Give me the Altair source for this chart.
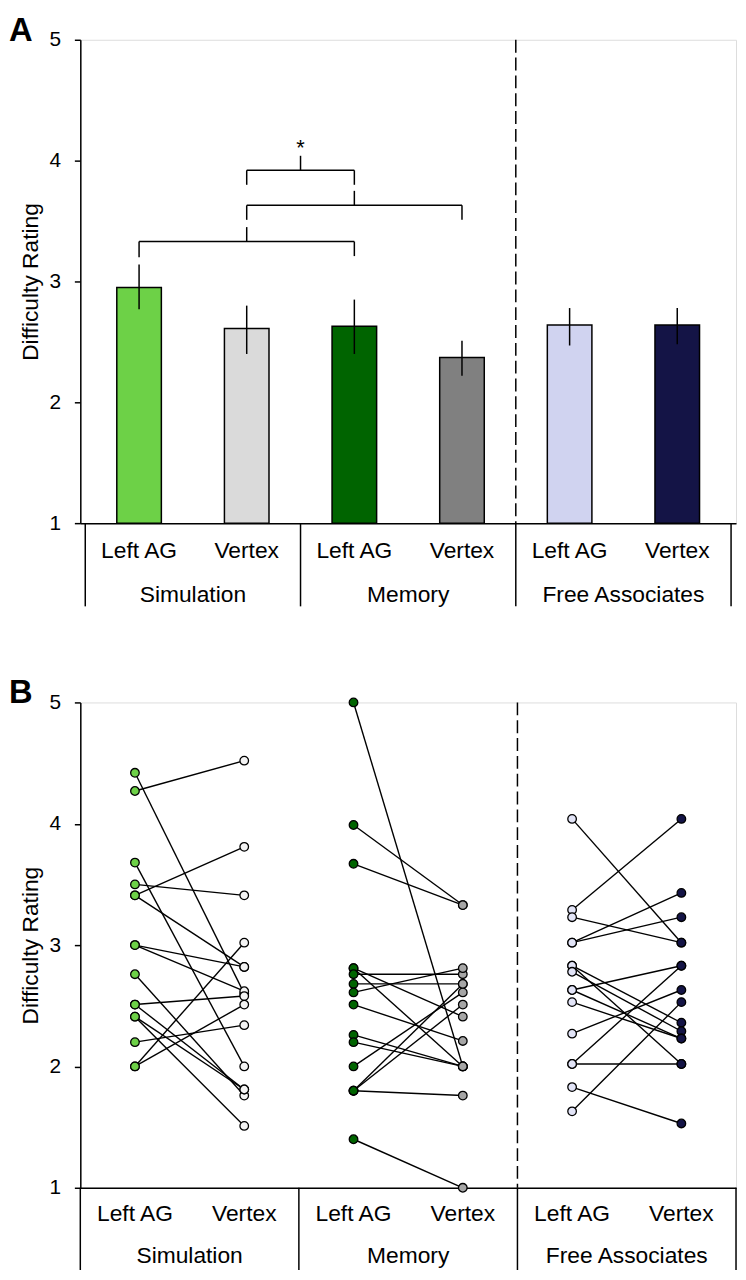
import altair as alt
import pandas as pd

# ---------------- data ----------------
cond_labels = ["Left AG", "Vertex", "Left AG", "Vertex", "Left AG", "Vertex"]
cond_keys = ["sim_ag", "sim_vx", "mem_ag", "mem_vx", "fa_ag", "fa_vx"]
cond_pos = [1, 2, 3, 4, 5, 6]
group_labels = ["Simulation", "Memory", "Free Associates"]
group_pos = [1.5, 3.5, 5.5]
divider_pos = [0.5, 2.5, 4.5, 6.5]
dash_pos = [4.5]

# Panel A: means and error bars
means = [2.95, 2.61, 2.63, 2.37, 2.64, 2.64]
err_lo = [2.77, 2.40, 2.40, 2.22, 2.47, 2.48]
err_hi = [3.14, 2.80, 2.85, 2.51, 2.78, 2.78]
bar_colors = ["#6DD147", "#DADADA", "#006400", "#808080", "#D0D3F0", "#141446"]
dot_colors = ["#6DD147", "#F4F4F4", "#006400", "#A6A6A6", "#E2E4F7", "#141446"]

# significance brackets (x from, x to, y from, y to)
br_x = [1, 1, 3, 2, 2, 2, 4, 3, 2, 2, 3, 2.5]
br_x2 = [3, 1, 3, 2, 4, 2, 4, 3, 3, 2, 3, 2.5]
br_y = [3.33, 3.33, 3.33, 3.33, 3.63, 3.63, 3.63, 3.63, 3.92, 3.92, 3.92, 3.92]
br_y2 = [3.33, 3.20, 3.21, 3.45, 3.63, 3.51, 3.51, 3.75, 3.92, 3.80, 3.80, 4.04]
star_x = [2.5]
star_y = [4.10]

# Panel B: individual ratings (paired by index)
sim_left = [4.27, 4.42, 3.68, 3.50, 3.41, 3.41, 3.00, 3.00, 2.76, 2.51, 2.51, 2.41, 2.41, 2.20, 2.00, 2.00]
sim_vertex = [4.52, 2.60, 2.00, 3.41, 3.81, 2.82, 2.82, 2.62, 1.76, 2.58, 1.81, 1.81, 1.51, 2.34, 3.02, 2.51]
mem_left = [5.00, 3.99, 3.67, 2.81, 2.81, 2.76, 2.68, 2.61, 2.51, 2.26, 2.20, 2.00, 1.80, 1.80, 1.80, 1.40]
mem_vertex = [2.00, 3.33, 3.33, 2.00, 2.41, 2.76, 2.68, 2.81, 2.21, 2.00, 2.00, 2.61, 2.68, 2.51, 1.76, 1.00]
fa_left = [4.04, 3.29, 3.23, 3.02, 3.02, 2.83, 2.83, 2.78, 2.63, 2.53, 2.27, 2.02, 2.02, 1.83, 1.63, 2.63]
fa_vertex = [3.02, 4.04, 3.02, 3.43, 3.23, 2.36, 2.02, 2.29, 2.83, 2.23, 2.63, 2.83, 2.02, 1.53, 2.53, 2.23]

# ---------------- tables ----------------
FONT = "Liberation Sans"
W = 662
HA = 488
HB = 490

dfA = pd.DataFrame({"pos": cond_pos, "key": cond_keys, "cond": cond_labels,
                    "mean": means, "lo": err_lo, "hi": err_hi, "base": [1] * 6})
df_cond = pd.DataFrame({"pos": cond_pos, "cond": cond_labels})
df_group = pd.DataFrame({"pos": group_pos, "grp": group_labels})
df_div = pd.DataFrame({"pos": divider_pos})
df_dash = pd.DataFrame({"pos": dash_pos})
df_br = pd.DataFrame({"x": br_x, "x2": br_x2, "y": br_y, "y2": br_y2})
df_star = pd.DataFrame({"x": star_x, "y": star_y, "t": ["*"]})

rows = []
pairs = [(sim_left, sim_vertex, 0), (mem_left, mem_vertex, 2), (fa_left, fa_vertex, 4)]
pid = 0
for L, R, k in pairs:
    for a, b in zip(L, R):
        rows.append({"pid": pid, "pos": cond_pos[k], "key": cond_keys[k], "value": a})
        rows.append({"pid": pid, "pos": cond_pos[k + 1], "key": cond_keys[k + 1], "value": b})
        pid += 1
dfB = pd.DataFrame(rows)

x_scale = alt.Scale(domain=[0.5, 6.5], nice=False, zero=False)
y_scale = alt.Scale(domain=[1, 5], nice=False, zero=False)
x_axis = alt.Axis(labels=False, ticks=False, title=None, grid=False,
                  domainColor="black", domainWidth=1.5)
y_axis = alt.Axis(values=[1, 2, 3, 4, 5], format="d", title="Difficulty Rating",
                  grid=False, tickSize=6, tickColor="black", tickWidth=1.5,
                  domainColor="black", domainWidth=1.5, labelColor="black",
                  labelFontSize=21, labelPadding=14, titleFontSize=23,
                  titleFontWeight="normal", titleColor="black", titlePadding=7,
                  labelFont=FONT, titleFont=FONT)


def X(field):
    return alt.X(field, type="quantitative", scale=x_scale, axis=x_axis)


def Y(field):
    return alt.Y(field, type="quantitative", scale=y_scale, axis=y_axis)


def table_layers(H, cat_off, grp_off, div_off):
    cats = alt.Chart(df_cond).mark_text(fontSize=23, font=FONT, color="black",
                                        baseline="middle").encode(
        x=X("pos"), y=alt.value(H + cat_off), text="cond:N")
    grps = alt.Chart(df_group).mark_text(fontSize=23, font=FONT, color="black",
                                         baseline="middle").encode(
        x=X("pos"), y=alt.value(H + grp_off), text="grp:N")
    divs = alt.Chart(df_div).mark_rule(color="black", strokeWidth=1.5).encode(
        x=X("pos"), y=alt.value(H), y2=alt.value(H + div_off))
    dash = alt.Chart(df_dash).mark_rule(color="black", strokeWidth=1.5,
                                        strokeDash=[13, 5]).encode(
        x=X("pos"), y=alt.value(0), y2=alt.value(H))
    return [dash, divs, cats, grps]


def panel_label(letter):
    return alt.Chart(pd.DataFrame({"t": [letter]})).mark_text(
        fontSize=33, fontWeight="bold", font=FONT, align="left",
        baseline="top", color="black").encode(
        x=alt.value(-72), y=alt.value(-25), text="t:N")


# ---------------- panel A ----------------
bars = alt.Chart(dfA).mark_bar(size=45, stroke="black", strokeWidth=1.5).encode(
    x=X("pos"), y=Y("mean"), y2="base",
    fill=alt.Fill("key:N", scale=alt.Scale(domain=cond_keys, range=bar_colors),
                  legend=None))
errs = alt.Chart(dfA).mark_rule(color="black", strokeWidth=1.5).encode(
    x=X("pos"), y=Y("lo"), y2="hi")
brackets = alt.Chart(df_br).mark_rule(color="black", strokeWidth=1.5).encode(
    x=X("x"), x2="x2", y=Y("y"), y2="y2")
star = alt.Chart(df_star).mark_text(fontSize=22, font=FONT, color="black",
                                    baseline="middle").encode(
    x=X("x"), y=Y("y"), text="t:N")

panelA = alt.layer(bars, errs, brackets, star, *table_layers(HA, 28, 73, 84),
                   panel_label("A")).properties(width=W, height=HA)

# ---------------- panel B ----------------
lines = alt.Chart(dfB).mark_line(color="black", strokeWidth=1.4).encode(
    x=X("pos"), y=Y("value"), detail="pid:N")
dots = alt.Chart(dfB).mark_circle(size=75, stroke="black", strokeWidth=1.3,
                                  opacity=1).encode(
    x=X("pos"), y=Y("value"),
    fill=alt.Fill("key:N", scale=alt.Scale(domain=cond_keys, range=dot_colors),
                  legend=None))

panelB = alt.layer(lines, dots, *table_layers(HB, 27, 69, 83),
                   panel_label("B")).properties(width=W, height=HB)

chart = alt.vconcat(panelA, panelB, spacing=69).resolve_scale(
    fill="independent").properties(padding=0).configure_view(
    stroke=None).configure(font=FONT)

chart.save("out.html", embed_options={"renderer": "svg", "actions": False})
